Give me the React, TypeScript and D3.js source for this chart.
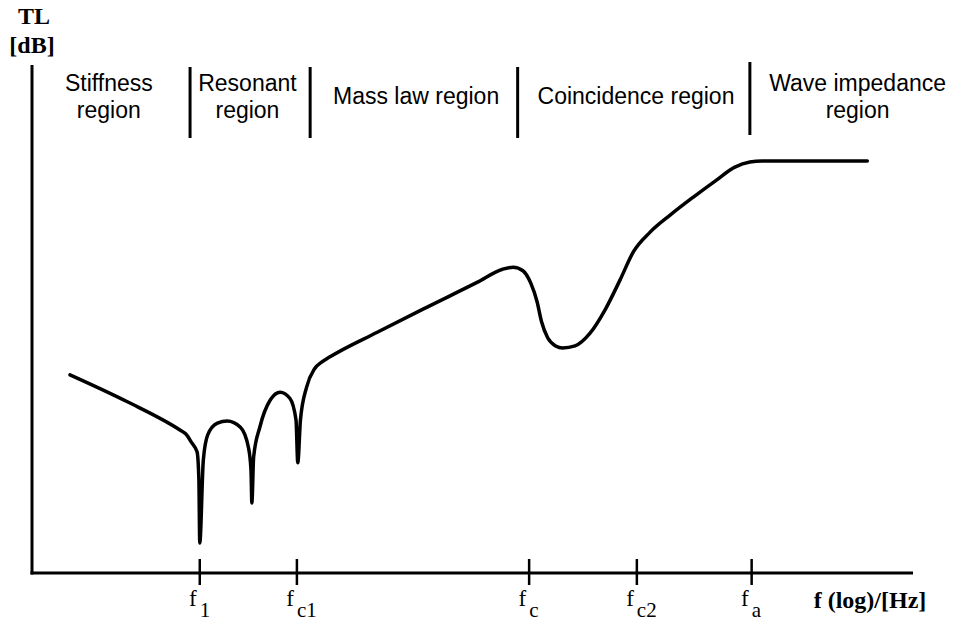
import React from 'react';
import * as d3 from 'd3';

// schematic transmission loss curve, x = log frequency position, y = TL (arbitrary units 0..100)
const curveF = [4.3, 10.8, 16.8, 17.4, 18.1, 18.7, 18.9, 19.0, 19.4, 19.9, 21.0, 22.1, 23.6, 24.5, 24.8, 24.9,
  25.1, 25.8, 27.0, 28.1, 29.2, 29.9, 30.1, 30.4, 31.1, 32.0, 32.8, 33.7, 39.1, 44.7, 50.4, 53.3, 54.5, 55.6,
  56.5, 57.2, 57.7, 58.4, 59.3, 60.1, 61.5, 63.2, 64.9, 66.6, 68.1, 70.0, 72.3, 74.9, 77.4, 79.6, 81.3,
  82.7, 94.6];
const curveTL = [39.0, 33.7, 28.1, 27.4, 25.6, 23.8, 18.3, 5.9, 22.2, 27.2, 29.5, 29.9, 28.7, 24.8, 20.3, 13.8,
  22.8, 28.7, 34.1, 35.6, 34.4, 30.1, 21.7, 30.1, 36.6, 40.2, 41.5, 42.5, 47.4, 52.3, 57.2, 59.8, 60.2, 59.5,
  57.0, 53.4, 49.5, 46.3, 44.7, 44.3, 44.7, 47.2, 51.8, 57.7, 63.2, 67.1, 70.5, 74.0, 77.2, 79.9, 80.9,
  81.1, 81.1];

const tickSubs = ['1', 'c1', 'c', 'c2', 'a'];
const tickPos = [19.0, 30.0, 56.3, 68.5, 81.5];

const separatorPos = [17.9, 31.5, 55.0, 81.3];
const regionLines = [['Stiffness', 'region'], ['Resonant', 'region'], ['Mass law region'], ['Coincidence region'], ['Wave impedance', 'region']];
const regionCenters = [8.7, 24.4, 43.5, 68.4, 93.5];

const W = 955;
const H = 621;

export default function App() {
  const x = d3.scaleLinear().domain([0, 100]).range([32, 915]);
  const y = d3.scaleLinear().domain([0, 100]).range([573, 65]);

  const pts: [number, number][] = curveF.map((f, i) => [f, curveTL[i]]);
  const line = d3.line<[number, number]>()
    .x(d => x(d[0]))
    .y(d => y(d[1]))
    .curve(d3.curveMonotoneX);

  const axisY = y(0);
  const sans = '"Liberation Sans", Arial, sans-serif';
  const serif = '"Liberation Serif", "Times New Roman", serif';

  return (
    <svg width={W} height={H} style={{ position: 'absolute', left: 0, top: 0, background: '#fff' }}>
      {/* axes */}
      <line x1={x(0)} x2={x(0)} y1={y(100)} y2={axisY + 1.5} stroke="#000" strokeWidth={3} />
      <line x1={x(0) - 1.5} x2={x(100) - 2} y1={axisY} y2={axisY} stroke="#000" strokeWidth={3} />

      <text x={34} y={24} textAnchor="middle" fontFamily={serif} fontWeight="bold" fontSize={24}>TL</text>
      <text x={32} y={53} textAnchor="middle" fontFamily={serif} fontWeight="bold" fontSize={24}>[dB]</text>

      {/* ticks and labels */}
      {tickPos.map((p, i) => (
        <g key={i}>
          <line x1={x(p)} x2={x(p)} y1={axisY - 14} y2={axisY + 12} stroke="#000" strokeWidth={2.5} />
          <text x={x(p) - 3} y={606} textAnchor="end" fontFamily={serif} fontSize={23}>f</text>
          <text x={x(p)} y={617} textAnchor="start" fontFamily={serif} fontSize={21}>{tickSubs[i]}</text>
        </g>
      ))}
      <text x={870} y={608} textAnchor="middle" fontFamily={serif} fontWeight="bold" fontSize={24}>f (log)/[Hz]</text>

      {/* region separators */}
      {separatorPos.map((p, i) => (
        <line key={i} x1={x(p)} x2={x(p)} y1={i === 3 ? 62 : 67} y2={i === 3 ? 135 : 138} stroke="#000" strokeWidth={3} />
      ))}
      {regionLines.map((ls, i) => (
        <text key={i} fontFamily={sans} fontSize={23} textAnchor="middle">
          {ls.length === 1
            ? <tspan x={x(regionCenters[i])} y={104}>{ls[0]}</tspan>
            : ls.map((s, j) => <tspan key={j} x={x(regionCenters[i])} y={91 + j * 27}>{s}</tspan>)}
        </text>
      ))}

      {/* TL curve */}
      <path d={line(pts) || ''} fill="none" stroke="#000" strokeWidth={3.5} strokeLinejoin="round" strokeLinecap="round" />
    </svg>
  );
}
